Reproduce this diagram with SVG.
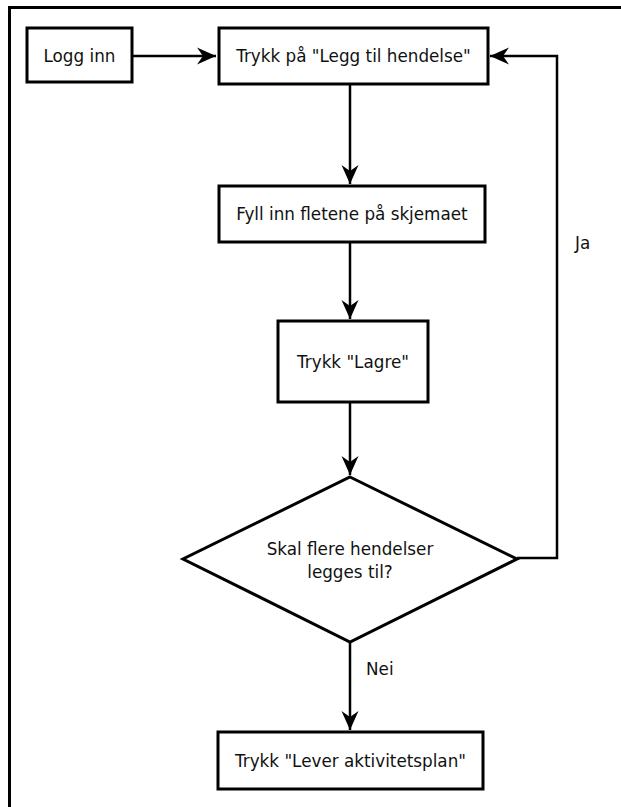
<svg xmlns="http://www.w3.org/2000/svg" width="621" height="807" viewBox="0 0 621 807">
  <defs>
    <style>
      .box { fill: #ffffff; stroke: #000000; stroke-width: 3; }
      .edge { fill: none; stroke: #000000; stroke-width: 2.5; }
      .lbl { font-family: "DejaVu Sans", Verdana, sans-serif; font-size: 16.8px; fill: #111111; text-anchor: middle; }
      .note { font-family: "DejaVu Sans", Verdana, sans-serif; font-size: 16.8px; fill: #111111; }
    </style>
    <marker id="arrow" markerUnits="userSpaceOnUse" markerWidth="24" markerHeight="20" viewBox="-20 -10 22 20" refX="0" refY="0" orient="auto">
      <path d="M0,0 L-19,-8.5 L-13,0 L-19,8.5 Z" fill="#000000"/>
    </marker>
  </defs>

  <rect width="621" height="807" fill="#ffffff"/>
  <!-- outer frame, open past the right and bottom edges -->
  <rect x="9.5" y="7.5" width="640" height="840" fill="none" stroke="#000000" stroke-width="3"/>

  <g id="connectors">
    <path class="edge" d="M132,56 L216,56" marker-end="url(#arrow)"/>
    <path class="edge" d="M350,84 L350,184" marker-end="url(#arrow)"/>
    <path class="edge" d="M350,242 L350,319" marker-end="url(#arrow)"/>
    <path class="edge" d="M350,402 L350,475" marker-end="url(#arrow)"/>
    <path class="edge" d="M517,558 L557,558 L557,56 L490,56" marker-end="url(#arrow)"/>
    <path class="edge" d="M350,642 L350,730" marker-end="url(#arrow)"/>
    <text class="note" x="575" y="249">Ja</text>
    <text class="note" x="366" y="675">Nei</text>
  </g>

  <g id="logg-inn">
    <rect class="box" x="27" y="28" width="105" height="54"/>
    <text class="lbl" x="79.5" y="62">Logg inn</text>
  </g>

  <g id="legg-til">
    <rect class="box" x="219" y="28" width="269" height="56"/>
    <text class="lbl" x="353.5" y="62">Trykk på "Legg til hendelse"</text>
  </g>

  <g id="fyll-inn">
    <rect class="box" x="219" y="186" width="266" height="56"/>
    <text class="lbl" x="352" y="220">Fyll inn fletene på skjemaet</text>
  </g>

  <g id="lagre">
    <rect class="box" x="278" y="321" width="150" height="81"/>
    <text class="lbl" x="353" y="368">Trykk "Lagre"</text>
  </g>

  <g id="flere">
    <polygon class="box" points="350,477 517,559 350,642 183,559"/>
    <text class="lbl" x="350" y="555">Skal flere hendelser</text>
    <text class="lbl" x="350" y="578">legges til?</text>
  </g>

  <g id="lever">
    <rect class="box" x="218" y="732" width="265" height="57"/>
    <text class="lbl" x="350.5" y="767">Trykk "Lever aktivitetsplan"</text>
  </g>
</svg>
